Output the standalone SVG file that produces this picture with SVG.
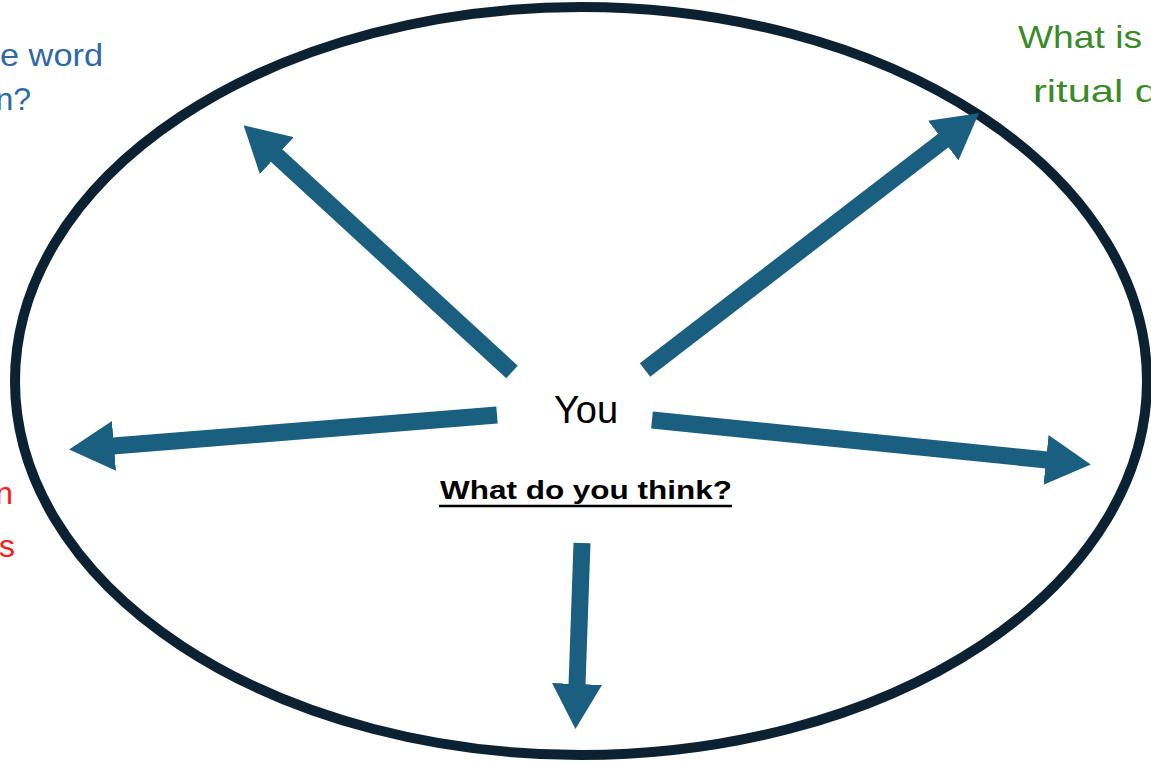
<svg xmlns="http://www.w3.org/2000/svg" width="1151" height="763" viewBox="0 0 1151 763">
<style>
.lbl{font-family:"Liberation Sans",Arial,sans-serif;font-size:32px}
.arr{stroke:#1b5f80;stroke-width:17;fill:none;marker-end:url(#head)}
</style>
<defs>
<marker id="head" viewBox="0 0 45 50" markerUnits="userSpaceOnUse" markerWidth="45" markerHeight="50" refX="1" refY="25" orient="auto">
<path d="M0,0 L45,25 L0,50 z" fill="#1b5f80"/>
</marker>
</defs>
<rect width="1151" height="763" fill="#fff"/>
<g id="frame">
<ellipse cx="581" cy="381" rx="566" ry="374" fill="none" stroke="#0c2233" stroke-width="10"/>
</g>
<g id="connectors">
<line class="arr" x1="512" y1="372" x2="276" y2="155"/>
<line class="arr" x1="645" y1="370" x2="944" y2="140"/>
<line class="arr" x1="497" y1="415" x2="113" y2="446"/>
<line class="arr" x1="652" y1="420" x2="1047" y2="460"/>
<line class="arr" x1="582" y1="543" x2="577" y2="685"/>
</g>
<g id="center">
<text x="586" y="423" text-anchor="middle" font-family="'Liberation Sans',Arial,sans-serif" font-size="38" fill="#000">You</text>
<text x="440" y="499" textLength="292" lengthAdjust="spacingAndGlyphs" font-family="'Liberation Sans',Arial,sans-serif" font-size="25" font-weight="bold" fill="#000">What do you think?</text>
<line x1="439" y1="506" x2="732" y2="506" stroke="#000" stroke-width="2.5"/>
</g>
<g id="topleft">
<text class="lbl" x="0" y="66" textLength="103" lengthAdjust="spacingAndGlyphs" fill="#2e68a6">e word</text>
<text class="lbl" x="31" y="110" text-anchor="end" fill="#2e68a6">n?</text>
</g>
<g id="topright">
<text class="lbl" x="1018" y="48" textLength="124" lengthAdjust="spacingAndGlyphs" fill="#3b8a2a">What is</text>
<text class="lbl" x="1033" y="102" textLength="125" lengthAdjust="spacingAndGlyphs" fill="#3b8a2a">ritual d</text>
</g>
<g id="left">
<text class="lbl" x="13" y="504" text-anchor="end" fill="#ff1a1a">n</text>
<text class="lbl" x="15" y="557" text-anchor="end" fill="#ff1a1a">s</text>
</g>
</svg>
